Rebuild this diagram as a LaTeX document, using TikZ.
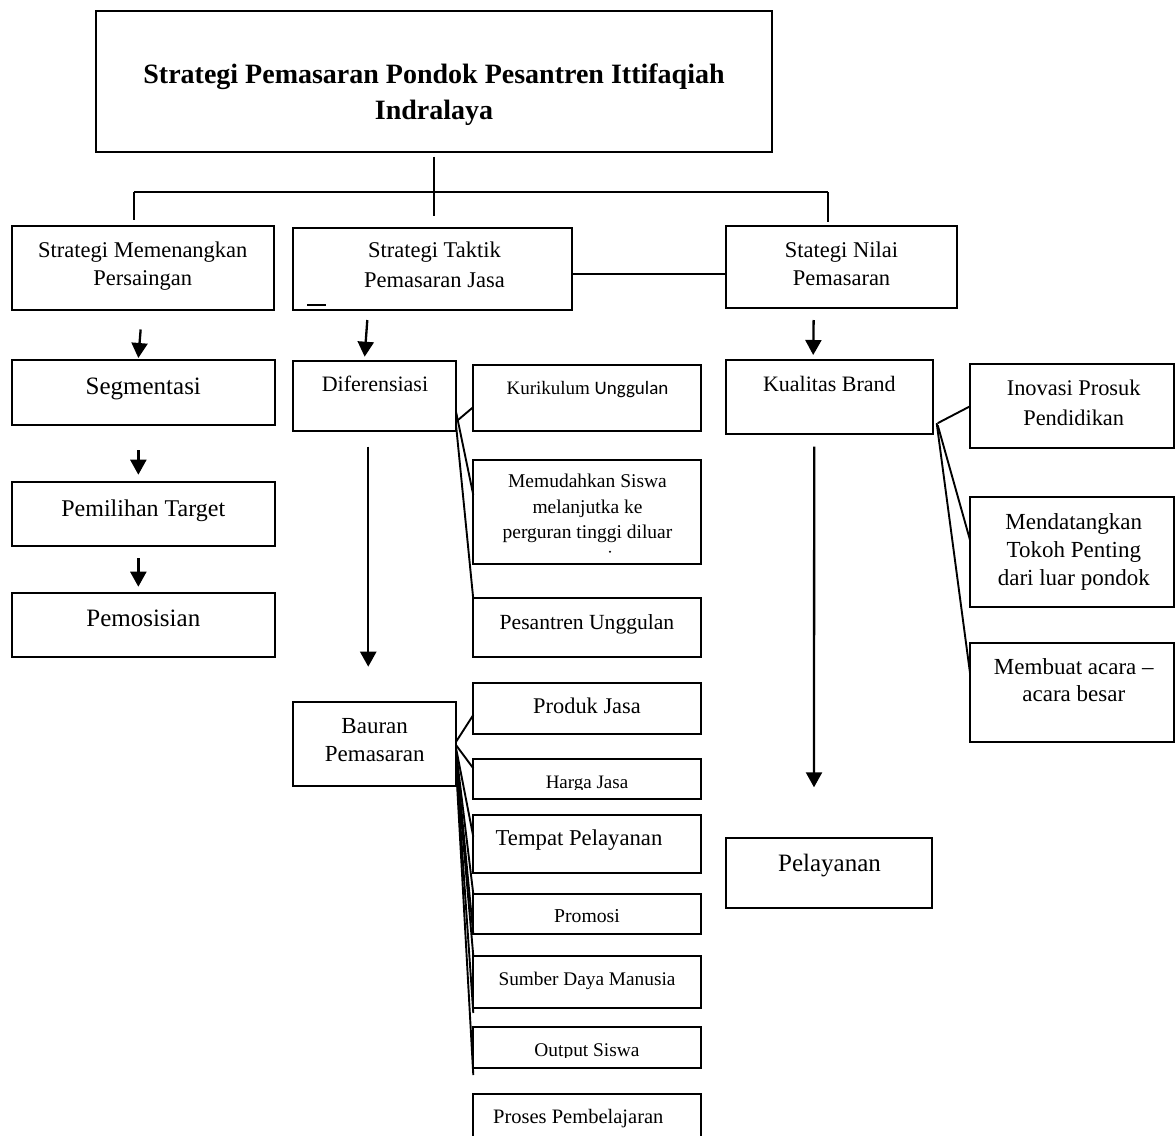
\documentclass[tikz,border=0pt]{standalone}
\usepackage{fontspec}
\setmainfont{Liberation Serif}
\newfontfamily\carlito{Carlito}
\usetikzlibrary{arrows.meta}
\newcommand\mkbox[5]{\node[box, minimum width={#4-#2}, minimum height={#5-#3}] (#1) at ({(#2+#4)/2},{(#3+#5)/2}) {};}
\newcommand\tx[6]{\node[txt, font=\fontsize{#4}{#5}\selectfont] (#1) at (#2,#3) {#6};}
\begin{document}
\begin{tikzpicture}[x=1pt,y=-1pt,
  box/.style={draw, line width=2pt, rectangle, inner sep=0pt, outer sep=0pt},
  con/.style={line width=1.9pt},
  arr/.style={line width=2.3pt, -{Triangle[width=16pt,length=15pt]}},
  txt/.style={anchor=base, align=center, inner sep=0pt},
]
\useasboundingbox (0,0) rectangle (1175,1135);
% boxes
\mkbox{title}{96.4}{10.7}{772}{152.3}
\mkbox{b1}{11.5}{226}{273.8}{309.5}
\mkbox{b2}{293.3}{227.7}{572.3}{310}
\mkbox{b3}{726}{225.5}{957.3}{307.5}
\mkbox{seg}{11.7}{360}{275}{425.3}
\mkbox{pil}{11.7}{481.7}{275}{546}
\mkbox{pos}{11.7}{592.7}{275}{657.3}
\mkbox{dif}{293.3}{360.7}{456}{430.7}
\mkbox{kur}{473.3}{365}{700.7}{430.7}
\mkbox{mem}{473.3}{460}{700.7}{564}
\mkbox{pes}{473.3}{598.3}{700.7}{656.7}
\mkbox{bau}{293.3}{701.7}{456}{786}
\mkbox{pro}{473.3}{682.7}{700.7}{734}
\mkbox{har}{473.3}{759}{700.7}{799}
\mkbox{tem}{473.3}{815}{700.7}{873}
\mkbox{prm}{473.3}{894}{700.7}{934}
\mkbox{sdm}{473.3}{956}{700.7}{1008}
\mkbox{out}{473.3}{1027}{700.7}{1068}
\mkbox{prs}{473.3}{1094}{700.7}{1142}
\mkbox{kual}{725.7}{360}{932.7}{434.3}
\mkbox{ino}{970}{364.3}{1174}{448.3}
\mkbox{mend}{970}{497}{1174}{607}
\mkbox{mbu}{970}{643}{1174}{742}
\mkbox{pel}{725.7}{838.3}{932.3}{908.3}
% texts (base = baseline of last line)
\node[txt, font=\bfseries\fontsize{28}{36}\selectfont] (titlet) at (434,119) {Strategi Pemasaran Pondok Pesantren Ittifaqiah\\Indralaya};
\tx{b1t}{142.8}{285.5}{22.5}{28.5}{Strategi Memenangkan\\Persaingan}
\tx{b2t}{434.5}{287}{22.5}{30}{Strategi Taktik\\Pemasaran Jasa}
\tx{b3t}{841.5}{285.5}{22.5}{28.5}{Stategi Nilai\\Pemasaran}
\tx{segt}{143.3}{394}{25}{30}{Segmentasi}
\tx{pilt}{143.3}{516}{24}{30}{Pemilihan Target}
\tx{post}{143.3}{626.7}{25}{30}{Pemosisian}
\tx{dift}{375}{391.7}{22}{28}{Diferensiasi}
\node[txt, font=\fontsize{19}{24}\selectfont] (kurt) at (587.5,394) {Kurikulum {\carlito Unggulan}};
\tx{memt}{587.5}{538.3}{19.5}{25.3}{Memudahkan Siswa\\melanjutka ke\\perguran tinggi diluar}
\fill (610,551.7) circle (1.1);
\tx{pest}{587}{629.3}{21.6}{27}{Pesantren Unggulan}
\tx{baut}{374.7}{761.7}{23}{28.4}{Bauran\\Pemasaran}
\tx{prot}{587}{713.3}{22.4}{28}{Produk Jasa}
\begin{scope}
\clip (473.3,759) rectangle (700.7,789.5);
\tx{hart}{587}{788.3}{19}{24}{Harga Jasa}
\end{scope}
\tx{temt}{579}{845.7}{22.7}{28}{Tempat Pelayanan}
\tx{prmt}{587}{922.7}{19.7}{24}{Promosi}
\tx{sdmt}{587}{985}{19.3}{24}{Sumber Daya Manusia}
\begin{scope}
\clip (473.3,1027) rectangle (700.7,1057);
\tx{outt}{587}{1056.7}{19.4}{24}{Output Siswa}
\end{scope}
\tx{prst}{578.3}{1123.3}{20.5}{25}{Proses Pembelajaran}
\tx{kualt}{829.3}{391.7}{22}{28}{Kualitas Brand}
\tx{inot}{1073.7}{425}{22.4}{29.3}{Inovasi Prosuk\\Pendidikan}
\tx{mendt}{1073.8}{585}{23}{28}{Mendatangkan\\Tokoh Penting\\dari luar pondok}
\tx{mbut}{1073.8}{701.7}{23}{27.7}{Membuat acara –\\acara besar}
\tx{pelt}{829.5}{871.7}{25}{30}{Pelayanan}
% small mark in box 2
\draw[line width=1.6pt] ([xshift=14pt,yshift=5pt]b2.south west) -- ([xshift=33pt,yshift=5pt]b2.south west);
% tree bus
\coordinate (busL) at (133.8,192.3);
\coordinate (busR) at (827.8,192.3);
\coordinate (dropC) at (434.2,216);
\coordinate (dropL) at (133.8,220);
\coordinate (dropR) at (827.8,221.7);
\draw[con] ([yshift=-4.4pt]title.south) -- (dropC);
\draw[con] (busL) -- (busR);
\draw[con] (busL) -- (dropL);
\draw[con] (busR) -- (dropR);
\draw[con] ([yshift=-5.2pt]b2.east) -- ([yshift=-5.2pt]b2.east -| b3.west);
% arrows
\draw[arr] ([xshift=-2pt,yshift=-20pt]b1.south) -- ([xshift=-5pt,yshift=2pt]seg.north);
\draw[arr] ([xshift=-5pt,yshift=-25pt]seg.south) -- ([xshift=-5pt,yshift=7pt]pil.north);
\draw[arr] ([xshift=-5pt,yshift=-12pt]pil.south) -- ([xshift=-5pt,yshift=6pt]pos.north);
\draw[arr] ([xshift=-65.5pt,yshift=-10pt]b2.south) -- ([xshift=-10pt,yshift=4pt]dif.north);
\draw[arr] ([xshift=-6.4pt,yshift=-16pt]dif.south) -- ([xshift=-6.4pt,yshift=35pt]bau.north);
\draw[arr] ([xshift=-28pt,yshift=-12.5pt]b3.south) -- ([xshift=-16pt,yshift=5pt]kual.north);
\draw[arr] ([xshift=-15pt,yshift=-12.4pt]kual.south) -- ([xshift=-15pt,yshift=51pt]pel.north);
% diferensiasi fan
\draw[con] ([yshift=-26pt]dif.east) -- ([yshift=-9.2pt]kur.west);
\draw[con] ([yshift=-16pt]dif.east) -- ([yshift=17pt]mem.west);
\draw[con] ([yshift=-29pt]dif.east) -- ([yshift=-1pt]pes.north west);
% bauran fan
\draw[con] ([yshift=2pt]bau.east) -- ([yshift=-6.6pt]pro.west);
\draw[con] ([yshift=-1.2pt]bau.east) -- ([yshift=10.7pt]har.west);
\draw[con] ([yshift=-4pt]bau.east) -- ([yshift=7.3pt]tem.west);
\draw[con] ([yshift=-7pt]bau.east) -- (prm.north west);
\draw[con] ([yshift=-10pt]bau.east) -- (prm.south west);
\draw[con] ([yshift=-14pt]bau.east) -- (sdm.north west);
\draw[con] ([yshift=-18pt]bau.east) -- ([yshift=-5pt]sdm.south west);
\draw[con] ([yshift=-22pt]bau.east) -- ([yshift=-7pt]out.south west);
% kualitas fan
\draw[con] ([xshift=5pt,yshift=-26pt]kual.east) -- (ino.west);
\draw[con] ([xshift=5pt,yshift=-28pt]kual.east) -- ([yshift=12pt]mend.west);
\draw[con] ([xshift=4pt,yshift=-26pt]kual.east) -- ([yshift=19.5pt]mbu.west);
\end{tikzpicture}
\end{document}
